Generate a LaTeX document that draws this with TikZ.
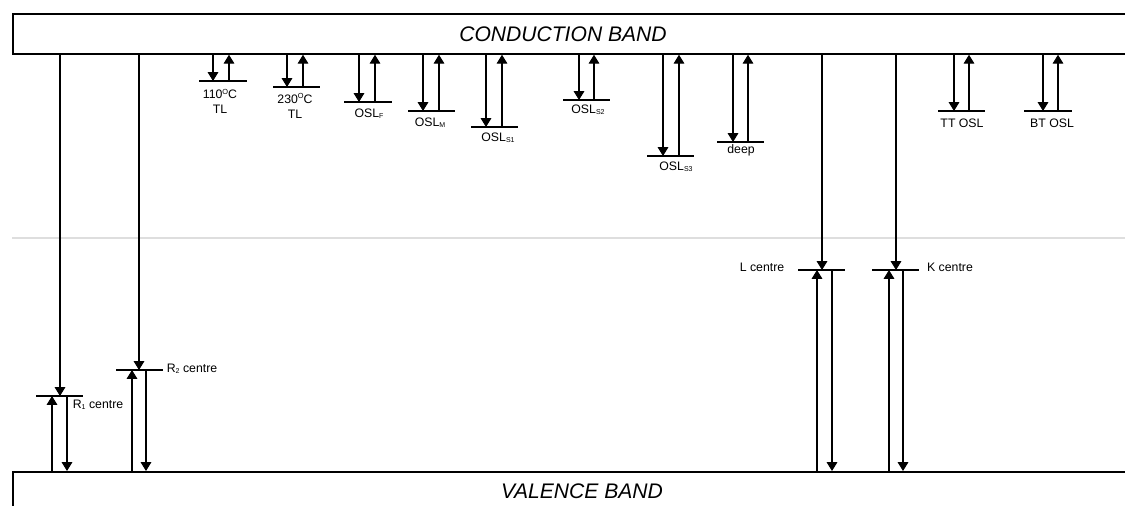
\documentclass[tikz,border=0pt]{standalone}
\usepackage{fontspec}
\setmainfont{Liberation Sans}
\usetikzlibrary{arrows.meta}
\newcommand\lsub[1]{\raisebox{-0.4pt}{\fontsize{4}{4}\selectfont #1}}
\newcommand\degsup{\raisebox{2.4pt}{\fontsize{4.2}{4}\selectfont O}}
\tikzset{
  arr/.style={line width=0.6pt,-{Triangle[width=6pt,length=5pt]}},
  barline/.style={line width=1pt},
  band/.style={draw,line width=1pt,inner sep=0pt,anchor=north west},
  lbl/.style={font=\fontsize{7}{8.5}\selectfont,inner sep=0pt,align=center},
  bandtext/.style={font=\fontsize{12}{14}\selectfont\itshape,inner sep=0pt}
}
\newcommand\trap[6]{%
  \coordinate (#1L) at (#5,#4);
  \coordinate (#1R) at (#6,#4);
  \coordinate (#1d) at (#2,#4);
  \coordinate (#1u) at (#3,#4);
  \draw[barline] (#1L) -- (#1R);
  \draw[arr] (cb.south -| #1d) -- (#1d);
  \draw[arr] (#1u) -- (cb.south -| #1u);
}
\newcommand\centr[7]{%
  \coordinate (#1L) at (#6,#5);
  \coordinate (#1R) at (#7,#5);
  \coordinate (#1c) at (#2,#5);
  \coordinate (#1u) at (#3,#5);
  \coordinate (#1d) at (#4,#5);
  \draw[barline] (#1L) -- (#1R);
  \draw[arr] (cb.south -| #1c) -- (#1c);
  \draw[arr] (vb.north -| #1u) -- (#1u);
  \draw[arr] (#1d) -- (vb.north -| #1d);
}
\begin{document}
\begin{tikzpicture}[x=0.02cm,y=-0.02cm]
\useasboundingbox (0,0) rectangle (1125,506);
\fill[white] (0,0) rectangle (1125,506);
% guide line
\draw[black!13,line width=0.8pt] (12,238) -- (1125,238);
% bands
\node[band,minimum width=22.6cm,minimum height=0.8cm] (cb) at (12,13) {};
\node[bandtext] (cbt) at (563,34) {CONDUCTION BAND};
\node[band,minimum width=22.6cm,minimum height=1.2cm] (vb) at (12,471) {};
\node[bandtext] (vbt) at (582,491) {VALENCE BAND};
% traps
\trap{ta}{213}{229}{81}{199}{247}
\trap{tb}{287}{303}{87}{273}{320}
\trap{tc}{359}{375}{102}{344}{392}
\trap{td}{423}{439}{111}{408}{455}
\trap{te}{486}{502}{127}{471}{518}
\trap{tf}{579}{594}{100}{563}{610}
\trap{tg}{663}{679}{156}{647}{694}
\trap{th}{733}{748}{142}{717}{764}
\trap{ti}{954}{969}{111}{938}{985}
\trap{tj}{1043}{1058}{111}{1024}{1072}
% centres
\centr{ra}{60}{52}{67}{396}{36}{83}
\centr{rb}{139}{132}{146}{370}{116}{163}
\centr{lc}{822}{817}{832}{270}{798}{845}
\centr{kc}{896}{889}{903}{270}{872}{919}
% labels
\node[lbl] (la) at (220,101.5) {110\degsup C\\TL};
\node[lbl] (lb) at (295,106) {230\degsup C\\TL};
\node[lbl] (lc) at (369,114) {OSL\lsub{F}};
\node[lbl] (ld) at (430,122.5) {OSL\lsub{M}};
\node[lbl] (le) at (498,137.5) {OSL\lsub{S1}};
\node[lbl] (lf) at (588,110) {OSL\lsub{S2}};
\node[lbl] (lg) at (676,166.5) {OSL\lsub{S3}};
\node[lbl] (lh) at (741,150) {deep};
\node[lbl] (li) at (962,123) {TT OSL};
\node[lbl] (lj) at (1052,123) {BT OSL};
\node[lbl] (lra) at (98,405) {R\lsub{1} centre};
\node[lbl] (lrb) at (192,368.5) {R\lsub{2} centre};
\node[lbl] (llc) at (762,267) {L centre};
\node[lbl] (lkc) at (950,267) {K centre};
\end{tikzpicture}
\end{document}
